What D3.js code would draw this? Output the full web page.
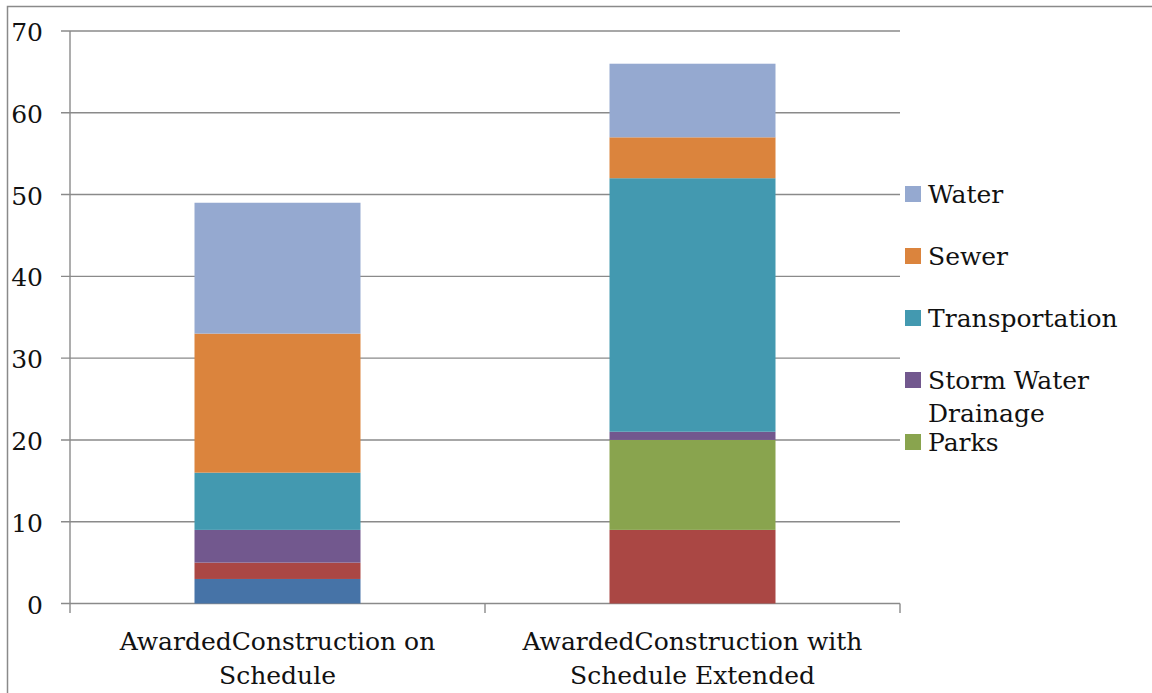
<!DOCTYPE html>
<html>
<head>
<meta charset="utf-8">
<script src="https://cdn.jsdelivr.net/npm/d3@7"></script>
<style>
  html, body { margin: 0; padding: 0; background: #fff; }
  svg { display: block; }
  text { font-family: "DejaVu Serif", "Liberation Serif", serif; fill: #111; }
</style>
</head>
<body>
<svg id="chart" width="1152" height="693"></svg>
<script>
// ---- data ----
const categories = [
  ["AwardedConstruction on", "Schedule"],
  ["AwardedConstruction with", "Schedule Extended"]
];
// series stacked bottom -> top
const seriesNames = ["Series 7", "Series 6", "Parks", "Storm Water Drainage", "Transportation", "Sewer", "Water"];
const seriesColors = ["#4673A7", "#AA4744", "#89A44E", "#72588E", "#4399B0", "#DB843D", "#95A9D0"];
const valuesSeries7 = [3, 0];
const valuesSeries6 = [2, 9];
const valuesParks = [0, 11];
const valuesStorm = [4, 1];
const valuesTransportation = [7, 31];
const valuesSewer = [17, 5];
const valuesWater = [16, 9];
const yTicks = [0, 10, 20, 30, 40, 50, 60, 70];
// legend entries shown (top -> bottom); remaining entries are clipped off in the reference
const legendEntries = [
  { name: ["Water"], color: "#95A9D0" },
  { name: ["Sewer"], color: "#DB843D" },
  { name: ["Transportation"], color: "#4399B0" },
  { name: ["Storm Water", "Drainage"], color: "#72588E" },
  { name: ["Parks"], color: "#89A44E" }
];

const allValues = [valuesSeries7, valuesSeries6, valuesParks, valuesStorm, valuesTransportation, valuesSewer, valuesWater];
const table = categories.map((c, i) => {
  const row = { cat: i };
  seriesNames.forEach((s, k) => row[s] = allValues[k][i]);
  return row;
});

const svg = d3.select("#chart");
const gridColor = "#8a8a8a";
const fs = 25;

// outer border
svg.append("path")
  .attr("d", "M7.5,693 L7.5,6.5 L1152,6.5")
  .attr("fill", "none").attr("stroke", gridColor).attr("stroke-width", 1.5);

const x = d3.scaleBand().domain(d3.range(categories.length)).range([70, 900])
  .paddingInner(0.6).paddingOuter(0.3);
const y = d3.scaleLinear().domain([0, 70]).range([603.5, 31]);

// gridlines
svg.append("g").selectAll("line").data(yTicks).join("line")
  .attr("x1", 61).attr("x2", 900)
  .attr("y1", d => y(d)).attr("y2", d => y(d))
  .attr("stroke", gridColor).attr("stroke-width", 1.4);

// y axis line
svg.append("line").attr("x1", 70).attr("x2", 70).attr("y1", y(70)).attr("y2", y(0))
  .attr("stroke", gridColor).attr("stroke-width", 1.4);

// x ticks at band boundaries
const xTickPos = [70, 70 + x.step(), 900];
svg.append("g").selectAll("line").data(xTickPos).join("line")
  .attr("x1", d => d).attr("x2", d => d)
  .attr("y1", y(0)).attr("y2", y(0) + 9.5)
  .attr("stroke", gridColor).attr("stroke-width", 1.4);

// y tick labels
svg.append("g").selectAll("text").data(yTicks).join("text")
  .attr("x", 43).attr("y", d => y(d) + 10)
  .attr("text-anchor", "end").attr("font-size", fs)
  .text(d => d);

// stacked bars
const stack = d3.stack().keys(seriesNames)(table);
svg.append("g").selectAll("g").data(stack).join("g")
  .attr("fill", (d, i) => seriesColors[i])
  .selectAll("rect").data(d => d).join("rect")
  .attr("x", d => x(d.data.cat))
  .attr("width", x.bandwidth())
  .attr("y", d => y(d[1]))
  .attr("height", d => y(d[0]) - y(d[1]));

// category labels
const cl = svg.append("g").selectAll("text").data(categories).join("text")
  .attr("text-anchor", "middle").attr("font-size", fs);
cl.each(function(lines, i) {
  const t = d3.select(this);
  lines.forEach((ln, j) => {
    t.append("tspan").attr("x", x(i) + x.bandwidth() / 2).attr("y", 650 + j * 34).text(ln);
  });
});

// legend
const lg = svg.append("g").selectAll("g").data(legendEntries).join("g")
  .attr("transform", (d, i) => `translate(905, ${186 + i * 62})`);
lg.append("rect").attr("width", 16).attr("height", 16).attr("fill", d => d.color);
lg.append("text").attr("font-size", fs).each(function(d) {
  const t = d3.select(this);
  d.name.forEach((ln, j) => t.append("tspan").attr("x", 23).attr("y", 17 + j * 33).text(ln));
});
</script>
</body>
</html>
